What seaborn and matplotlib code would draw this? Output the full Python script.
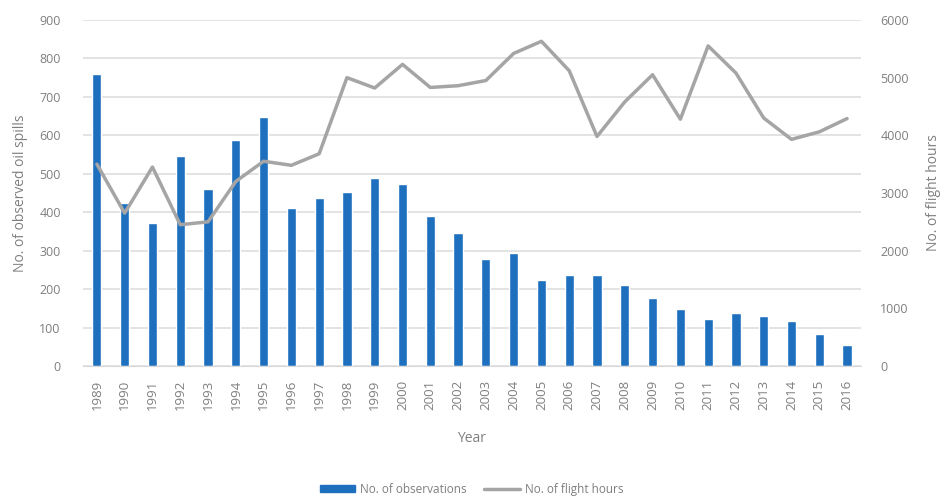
import numpy as np
import pandas as pd
import matplotlib
matplotlib.use("Agg")
import matplotlib.pyplot as plt
import seaborn as sns
from matplotlib.lines import Line2D
from matplotlib.patches import Patch

years = [str(y) for y in range(1989, 2017)]
observations = [760, 425, 373, 545, 460, 588, 648, 412, 437, 452, 488, 473, 390, 345,
                278, 293, 225, 237, 238, 210, 178, 148, 122, 138, 130, 118, 82, 55]
flight_hours = [3500, 2650, 3450, 2450, 2500, 3200, 3550, 3480, 3680, 5000, 4820, 5230,
                4830, 4860, 4950, 5420, 5630, 5120, 3980, 4580, 5050, 4280, 5550, 5080,
                4300, 3930, 4060, 4290]

df = pd.DataFrame({"Year": years, "Obs": observations, "Hours": flight_hours})

sns.set_style("white")
plt.rcParams['font.family'] = ['Open Sans', 'DejaVu Sans']
text_col = "#7f7f7f"
bar_col = "#1f6fbf"
line_col = "#a5a5a5"

fig = plt.figure(figsize=(9.43, 4.99), dpi=100)
ax = fig.add_axes([0.088, 0.2665, 0.825, 0.6935])

sns.barplot(data=df, x="Year", y="Obs", color=bar_col, width=0.33, saturation=1, ax=ax)
ax.set_ylim(0, 900)
ax.set_yticks(range(0, 901, 100))
ax.yaxis.grid(True, color="#dedede", linewidth=1.2)
ax.set_axisbelow(True)
ax.set_xlim(-0.5, len(years) - 0.5)
ax.set_xlabel("Year", color=text_col, fontsize=10, labelpad=15)
ax.set_ylabel("No. of observed oil spills", color=text_col, fontsize=10, labelpad=8)
ax.tick_params(axis="x", rotation=90, labelsize=9.5, colors=text_col, length=0, pad=10)
ax.tick_params(axis="y", labelsize=9, colors=text_col, length=0, pad=16)
for s in ax.spines.values():
    s.set_visible(False)
ax.spines["bottom"].set_visible(True)
ax.spines["bottom"].set_color("#d9d9d9")

ax2 = ax.twinx()
sns.lineplot(data=df, x="Year", y="Hours", color=line_col, linewidth=2.5, ax=ax2, sort=False)
ax2.set_ylim(0, 6000)
ax2.set_yticks(range(0, 6001, 1000))
ax2.set_xlim(-0.5, len(years) - 0.5)
ax2.set_ylabel("No. of flight hours", color=text_col, fontsize=10, labelpad=12)
ax2.tick_params(axis="y", labelsize=9, colors=text_col, length=0, pad=14)
for s in ax2.spines.values():
    s.set_visible(False)

handles = [Patch(color=bar_col), Line2D([0], [0], color=line_col, linewidth=2.5)]
fig.legend(handles, ["No. of observations", "No. of flight hours"], loc="lower center",
           bbox_to_anchor=(0.5, -0.015), ncol=2, frameon=False, fontsize=8.5,
           labelcolor=text_col, handlelength=3, handleheight=0.5, columnspacing=1.5,
           handletextpad=0.4)

fig.savefig("out.png", dpi=100)
